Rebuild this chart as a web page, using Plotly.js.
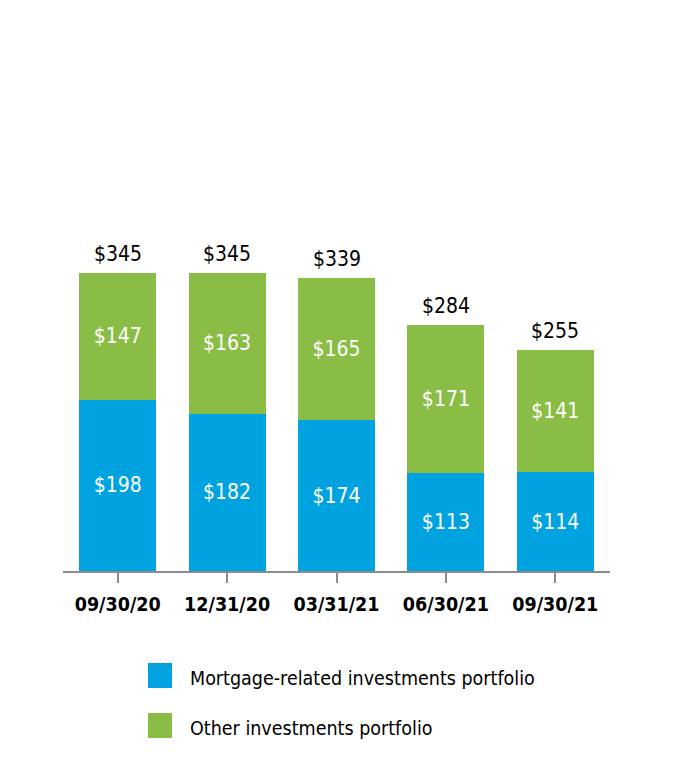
<!DOCTYPE html>
<html><head><meta charset="utf-8">
<script src="https://cdn.plot.ly/plotly-3.0.1.min.js"></script>
<style>body{margin:0;background:#fff}#chart{width:674px;height:774px}</style>
</head><body><div id="chart"></div>
<script>
const categories = ["09/30/20","12/31/20","03/31/21","06/30/21","09/30/21"];
const mortgageValues = [198,182,174,113,114];
const otherValues = [147,163,165,171,141];
const totalValues = [345,345,339,284,255];
const seriesNames = ["Mortgage-related investments portfolio","Other investments portfolio"];
const colors = ["#00a3e0","#8abd45"];
const FONT = "'DejaVu Sans Condensed','Liberation Sans Narrow','Roboto',sans-serif";

const fmt = v => "$" + v;
const traces = [
  {type:"bar", x:categories, y:mortgageValues, name:seriesNames[0], marker:{color:colors[0]},
   text:mortgageValues.map(fmt), textposition:"inside", insidetextanchor:"middle",
   textfont:{color:"#fff", size:21, family:FONT}, hoverinfo:"none"},
  {type:"bar", x:categories, y:otherValues, name:seriesNames[1], marker:{color:colors[1]},
   text:otherValues.map(fmt), textposition:"inside", insidetextanchor:"middle",
   textfont:{color:"#fff", size:21, family:FONT}, hoverinfo:"none"}
];

const annotations = categories.map((c,i)=>({
  x:c, y:totalValues[i], xref:"x", yref:"y", text:fmt(totalValues[i]), showarrow:false,
  yanchor:"bottom", yshift:5, font:{size:21, color:"#000", family:FONT}
}));
const shapes = [];
seriesNames.forEach((n,i)=>{
  const yTop = 663 + i*50;
  shapes.push({type:"rect", xref:"paper", yref:"paper",
    x0:(148-63)/547, x1:(172-63)/547,
    y0:(571-yTop-25)/346, y1:(571-yTop)/346,
    fillcolor:colors[i], line:{width:0}});
  annotations.push({xref:"paper", yref:"paper", x:(188-63)/547, y:(571-yTop-15)/346,
    xanchor:"left", yanchor:"middle", text:n, showarrow:false,
    font:{size:19.5, color:"#000", family:FONT}});
});

const layout = {
  width:674, height:774, margin:{l:63, r:64, t:225, b:203},
  paper_bgcolor:"#fff", plot_bgcolor:"#fff",
  barmode:"stack", bargap:0.295, showlegend:false,
  xaxis:{type:"category", range:[-0.5,4.5], showline:true, linecolor:"#8c8c8c", linewidth:2,
    ticks:"outside", ticklen:10, tickwidth:2, tickcolor:"#8c8c8c", ticklabelstandoff:5,
    tickfont:{size:19.5, color:"#000", family:FONT, weight:"bold"}, showgrid:false, fixedrange:true},
  yaxis:{range:[0,400], visible:false, showgrid:false, zeroline:false, fixedrange:true},
  annotations:annotations, shapes:shapes,
  font:{family:FONT}
};
Plotly.newPlot("chart", traces, layout, {staticPlot:true, displayModeBar:false});
</script></body></html>
